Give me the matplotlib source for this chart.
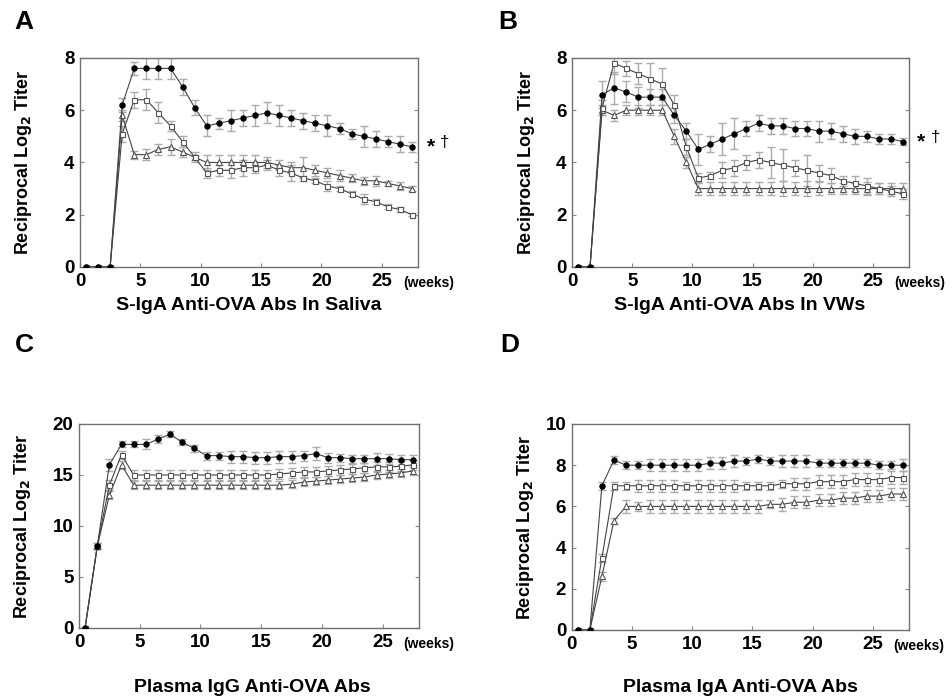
import numpy as np
import matplotlib
matplotlib.use("Agg")
import matplotlib.pyplot as plt

plt.rcParams["font.family"] = ["Liberation Sans", "DejaVu Sans"]

weeks = np.arange(28) + 0.5

# Panel A: S-IgA in saliva
a_circ = [0, 0, 0, 6.2, 7.6, 7.6, 7.6, 7.6, 6.9, 6.1, 5.4, 5.5, 5.6, 5.7, 5.8, 5.9,
          5.8, 5.7, 5.6, 5.5, 5.4, 5.3, 5.1, 5.0, 4.9, 4.8, 4.7, 4.6]
a_circ_err = [0, 0, 0, 0.25, 0.25, 0.4, 0.4, 0.4, 0.3, 0.3, 0.4, 0.2, 0.4, 0.3, 0.4, 0.4,
              0.4, 0.3, 0.3, 0.3, 0.4, 0.2, 0.2, 0.4, 0.3, 0.2, 0.3, 0.2]
a_sq = [0, 0, 0, 5.1, 6.4, 6.4, 5.9, 5.4, 4.8, 4.2, 3.6, 3.7, 3.7, 3.8, 3.8, 3.9,
        3.7, 3.6, 3.4, 3.3, 3.1, 3.0, 2.8, 2.6, 2.5, 2.3, 2.2, 2.0]
a_sq_err = [0, 0, 0, 0.3, 0.3, 0.4, 0.4, 0.2, 0.2, 0.1, 0.2, 0.2, 0.3, 0.3, 0.2, 0.2,
            0.2, 0.3, 0.1, 0.1, 0.2, 0.1, 0.1, 0.2, 0.1, 0.1, 0.1, 0.05]
a_tri = [0, 0, 0, 5.8, 4.3, 4.3, 4.5, 4.6, 4.4, 4.2, 4.0, 4.0, 4.0, 4.0, 4.0, 4.0,
         3.9, 3.8, 3.8, 3.7, 3.6, 3.5, 3.4, 3.3, 3.3, 3.2, 3.1, 3.0]
a_tri_err = [0, 0, 0, 0.2, 0.15, 0.2, 0.2, 0.3, 0.2, 0.2, 0.3, 0.3, 0.3, 0.3, 0.3, 0.2,
             0.2, 0.2, 0.4, 0.2, 0.2, 0.2, 0.15, 0.15, 0.2, 0.1, 0.15, 0.1]

# Panel B: S-IgA in vaginal washes
b_circ = [0, 0, 6.6, 6.85, 6.7, 6.5, 6.5, 6.5, 5.8, 5.2, 4.5, 4.7, 4.9, 5.1, 5.3, 5.5,
          5.4, 5.4, 5.3, 5.3, 5.2, 5.2, 5.1, 5.0, 5.0, 4.9, 4.9, 4.8]
b_circ_err = [0, 0, 0.5, 0.6, 0.4, 0.4, 0.3, 0.3, 0.3, 0.3, 0.6, 0.3, 0.6, 0.6, 0.3, 0.3,
              0.3, 0.3, 0.3, 0.3, 0.4, 0.3, 0.3, 0.3, 0.2, 0.2, 0.2, 0.15]
b_sq = [0, 0, 6.1, 7.8, 7.6, 7.4, 7.2, 7.0, 6.2, 4.6, 3.4, 3.5, 3.7, 3.8, 4.0, 4.1,
        4.0, 3.9, 3.8, 3.7, 3.6, 3.5, 3.3, 3.2, 3.1, 3.0, 2.9, 2.8]
b_sq_err = [0, 0, 0.3, 0.4, 0.3, 0.4, 0.6, 0.6, 0.4, 0.3, 0.2, 0.15, 0.3, 0.3, 0.3, 0.3,
            0.6, 0.6, 0.3, 0.6, 0.3, 0.3, 0.2, 0.3, 0.3, 0.2, 0.2, 0.2]
b_tri = [0, 0, 6.0, 5.8, 6.0, 6.0, 6.0, 6.0, 5.0, 4.0, 3.0, 3.0, 3.0, 3.0, 3.0, 3.0,
         3.0, 3.0, 3.0, 3.0, 3.0, 3.0, 3.0, 3.0, 3.0, 3.0, 3.0, 3.0]
b_tri_err = [0, 0, 0.2, 0.2, 0.2, 0.2, 0.2, 0.2, 0.3, 0.2, 0.25, 0.25, 0.25, 0.25, 0.25, 0.25,
             0.25, 0.3, 0.25, 0.3, 0.25, 0.2, 0.2, 0.2, 0.25, 0.2, 0.2, 0.2]

# Panel C: plasma IgG
c_circ = [0, 8, 16, 18, 18, 18, 18.5, 19, 18.2, 17.6, 16.9, 16.9, 16.8, 16.8, 16.7, 16.7,
          16.8, 16.8, 16.9, 17.1, 16.7, 16.7, 16.6, 16.6, 16.6, 16.6, 16.5, 16.5]
c_circ_err = [0, 0.3, 0.6, 0.3, 0.3, 0.5, 0.4, 0.3, 0.3, 0.3, 0.4, 0.4, 0.6, 0.6, 0.6, 0.6,
              0.6, 0.6, 0.5, 0.6, 0.5, 0.4, 0.4, 0.4, 0.6, 0.5, 0.5, 0.5]
c_sq = [0, 8, 14, 17, 15, 15, 15, 15, 15, 15, 15, 15, 15, 15, 15, 15,
        15.1, 15.2, 15.3, 15.3, 15.4, 15.5, 15.6, 15.7, 15.8, 15.8, 15.85, 16.0]
c_sq_err = [0, 0.3, 0.5, 0.4, 0.5, 0.5, 0.5, 0.5, 0.5, 0.5, 0.5, 0.5, 0.5, 0.5, 0.5, 0.5,
            0.5, 0.5, 0.5, 0.5, 0.5, 0.5, 0.5, 0.5, 0.5, 0.5, 0.5, 0.5]
c_tri = [0, 8, 13, 16, 14, 14, 14, 14, 14, 14, 14, 14, 14, 14, 14, 14,
         14.0, 14.1, 14.3, 14.4, 14.5, 14.6, 14.7, 14.8, 15.0, 15.1, 15.2, 15.4]
c_tri_err = [0, 0.3, 0.4, 0.4, 0.4, 0.4, 0.4, 0.4, 0.4, 0.4, 0.4, 0.4, 0.4, 0.4, 0.4, 0.4,
             0.4, 0.4, 0.4, 0.4, 0.4, 0.4, 0.4, 0.4, 0.4, 0.4, 0.4, 0.4]

# Panel D: plasma IgA
d_circ = [0, 0, 7.0, 8.25, 8.0, 8.0, 8.0, 8.0, 8.0, 8.0, 8.0, 8.1, 8.1, 8.2, 8.2, 8.3,
          8.2, 8.2, 8.2, 8.2, 8.1, 8.1, 8.1, 8.1, 8.1, 8.0, 8.0, 8.0]
d_circ_err = [0, 0, 0.2, 0.2, 0.2, 0.2, 0.3, 0.3, 0.3, 0.3, 0.3, 0.3, 0.3, 0.3, 0.2, 0.2,
              0.2, 0.3, 0.3, 0.3, 0.2, 0.2, 0.2, 0.2, 0.2, 0.2, 0.2, 0.3]
d_sq = [0, 0, 3.5, 7.0, 7.0, 7.0, 7.0, 7.0, 7.0, 7.0, 7.0, 7.0, 7.0, 7.0, 7.0, 7.0,
        7.0, 7.1, 7.1, 7.1, 7.2, 7.2, 7.2, 7.3, 7.3, 7.3, 7.4, 7.4]
d_sq_err = [0, 0, 0.2, 0.2, 0.2, 0.3, 0.3, 0.3, 0.3, 0.2, 0.3, 0.3, 0.3, 0.3, 0.2, 0.2,
            0.2, 0.2, 0.3, 0.3, 0.3, 0.3, 0.3, 0.3, 0.3, 0.3, 0.3, 0.3]
d_tri = [0, 0, 2.6, 5.3, 6.0, 6.0, 6.0, 6.0, 6.0, 6.0, 6.0, 6.0, 6.0, 6.0, 6.0, 6.0,
         6.1, 6.1, 6.2, 6.2, 6.3, 6.3, 6.4, 6.4, 6.5, 6.5, 6.6, 6.6]
d_tri_err = [0, 0, 0.2, 0.15, 0.3, 0.2, 0.3, 0.3, 0.3, 0.3, 0.3, 0.3, 0.3, 0.3, 0.3, 0.3,
             0.2, 0.3, 0.3, 0.3, 0.3, 0.3, 0.3, 0.3, 0.3, 0.3, 0.3, 0.3]

panels = [
    ("A", "S-IgA Anti-OVA Abs In Saliva", [0, 2, 4, 6, 8], 8,
     (a_circ, a_circ_err), (a_sq, a_sq_err), (a_tri, a_tri_err), True),
    ("B", "S-IgA Anti-OVA Abs In VWs", [0, 2, 4, 6, 8], 8,
     (b_circ, b_circ_err), (b_sq, b_sq_err), (b_tri, b_tri_err), True),
    ("C", "Plasma IgG Anti-OVA Abs", [0, 5, 10, 15, 20], 20,
     (c_circ, c_circ_err), (c_sq, c_sq_err), (c_tri, c_tri_err), False),
    ("D", "Plasma IgA Anti-OVA Abs", [0, 2, 4, 6, 8, 10], 10,
     (d_circ, d_circ_err), (d_sq, d_sq_err), (d_tri, d_tri_err), False),
]

# axes boxes, panel letter and title positions (pixels from top-left)
positions = [
    [0.0839, 0.6186, 0.3547, 0.2986],
    [0.6002, 0.6186, 0.3536, 0.2986],
    [0.0829, 0.1029, 0.3568, 0.2914],
    [0.6000, 0.1000, 0.3536, 0.2943],
]
letter_xy = [(24, 22), (508, 22), (24, 345), (510, 345)]
title_xy = [(249, 305), (740, 305), (252, 688), (740, 688)]
ylabel_x = [-0.136, -0.105, -0.136, -0.105]

W, H = 953, 700
fig = plt.figure(figsize=(9.53, 7.0), dpi=100)

for (letter, title, yticks, ymax, circ, sq, tri, mark), pos, lxy, txy, ylx in zip(
        panels, positions, letter_xy, title_xy, ylabel_x):
    ax = fig.add_axes(pos)
    styles = [
        (tri, dict(marker="^", mfc="white", mec="#555555", ms=4.0)),
        (sq, dict(marker="s", mfc="white", mec="#555555", ms=3.6)),
        (circ, dict(marker="o", mfc="black", mec="black", ms=3.8)),
    ]
    for (vals, errs), st in styles:
        ax.errorbar(weeks, vals, yerr=errs, fmt="none", ecolor="#ababab",
                    elinewidth=1, capsize=3, capthick=1, zorder=2)
        ax.plot(weeks, vals, color="#444444", lw=0.8, mew=0.8, zorder=3, **st)

    ax.set_xlim(0, 28)
    ax.set_ylim(0, ymax)
    ax.set_xticks([0, 5, 10, 15, 20, 25])
    ax.set_yticks(yticks)
    ax.tick_params(direction="in", length=3, width=0.8, color="#888888",
                   right=True, labelsize=13.5, pad=4)
    for lab in ax.get_xticklabels() + ax.get_yticklabels():
        lab.set_fontweight("bold")
    for sp in ax.spines.values():
        sp.set_color("#707070")
        sp.set_linewidth(1)

    ax.set_ylabel("Reciprocal Log$_\\mathbf{2}$ Titer", fontsize=13,
                  fontweight="bold")
    ax.yaxis.set_label_coords(ylx, 0.5)
    ax.text(0.955, -0.077, "(weeks)", transform=ax.transAxes, fontsize=10,
            fontweight="bold", ha="left", va="center")
    fig.text(txy[0] / W, 1 - txy[1] / H, title, fontsize=14,
             fontweight="bold", ha="center", va="center")
    fig.text(lxy[0] / W, 1 - lxy[1] / H, letter, fontsize=19,
             fontweight="bold", ha="center", va="center")
    if mark:
        ax.text(1.025, circ[0][-1], "*", transform=ax.get_yaxis_transform(),
                fontsize=15, fontweight="bold", ha="left", va="center")
        ax.text(1.065, circ[0][-1] + 0.15, "\u2020", transform=ax.get_yaxis_transform(),
                fontsize=12, ha="left", va="center")

fig.savefig("out.png", dpi=100)
